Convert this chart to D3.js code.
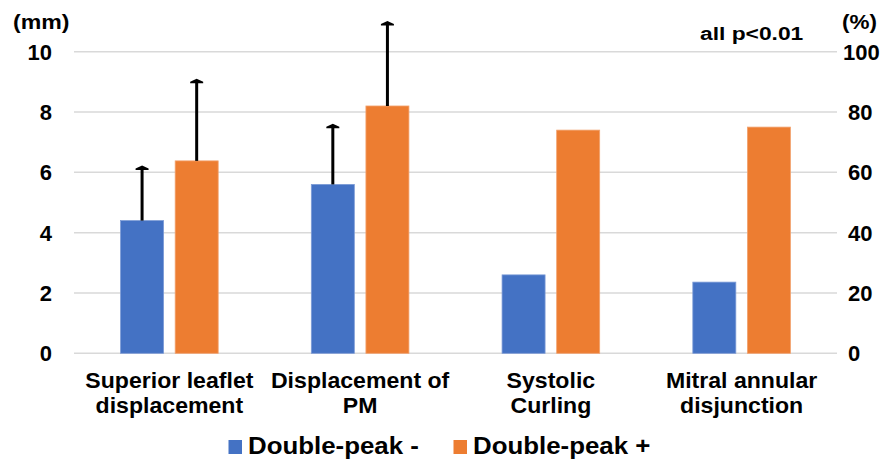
<!DOCTYPE html>
<html><head><meta charset="utf-8">
<script src="https://cdn.jsdelivr.net/npm/d3@7"></script>
<style>body{margin:0;background:#fff}svg{display:block}text{font-family:"Liberation Sans",Arial,sans-serif;font-weight:bold;fill:#000}</style>
</head><body><svg id="c" width="884" height="462"></svg>
<script>
const categories = [["Superior leaflet","displacement"],["Displacement of","PM"],["Systolic","Curling"],["Mitral annular","disjunction"]];
const seriesNames = ["Double-peak -","Double-peak +"];
const units = ["mm","mm","%","%"];
const negValues = [4.4, 5.6, 26, 23.6];
const posValues = [6.38, 8.2, 74, 75];
const negErrTop = [6.13, 7.51, null, null];
const posErrTop = [9.0, 10.92, null, null];
const leftTicks = [0,2,4,6,8,10];
const rightTicks = [0,20,40,60,80,100];
const colors = ["#4472C4","#ED7D31"];

const svg = d3.select("#c");
const L=74, R=837, T=51.7, B=353.3;
const x = d3.scaleBand().domain(d3.range(categories.length)).range([L,R]);
const yL = d3.scaleLinear().domain([0,10]).range([B,T]);
const yR = d3.scaleLinear().domain([0,100]).range([B,T]);
const yFor = i => units[i]==="%" ? yR : yL;

function label(g, tx, ty, str, size, sx, anchor){
  return g.append("text").attr("transform",`translate(${tx},${ty}) scale(${sx},1)`)
    .attr("text-anchor",anchor||"start").style("font-size",size+"px").text(str);
}

// gridlines
svg.append("g").selectAll("line").data(leftTicks).join("line")
  .attr("x1",L).attr("x2",R).attr("y1",d=>yL(d)).attr("y2",d=>yL(d))
  .attr("stroke","#D9D9D9").attr("stroke-width",1.5);

// left axis labels
svg.append("g").selectAll("text").data(leftTicks).join("text")
  .attr("x",52).attr("y",d=>yL(d)+8).attr("text-anchor","end")
  .style("font-size","22px").text(d=>d);
label(svg,13,29,"(mm)",21,1.1);
// right axis labels
svg.append("g").selectAll("text").data(rightTicks).join("text")
  .attr("x",d=>d===100?843:848).attr("y",d=>yR(d)+8).attr("text-anchor","start")
  .style("font-size","22px").text(d=>d);
label(svg,842,29,"(%)",21,1.07);
label(svg,700,39.5,"all p<0.01",19,1.2);

const bw = 43, gap = 11.6;
const off = [-(bw+gap)/2, (bw+gap)/2];
const series = [negValues,posValues];
const errs = [negErrTop,posErrTop];
series.forEach((vals,s)=>{
  svg.append("g").selectAll("rect").data(vals).join("rect")
    .attr("x",(d,i)=>x(i)+x.bandwidth()/2+off[s]-bw/2)
    .attr("width",bw)
    .attr("y",(d,i)=>yFor(i)(d))
    .attr("height",(d,i)=>B-yFor(i)(d))
    .attr("fill",colors[s]).attr("stroke",s===0?"#7C9BD6":"#F2A26E").attr("stroke-width",0.8);
});
series.forEach((vals,s)=>{
  const g = svg.append("g");
  vals.forEach((v,i)=>{
    const e = errs[s][i];
    if(e==null) return;
    const cx = x(i)+x.bandwidth()/2+off[s];
    const y = yFor(i);
    g.append("line").attr("x1",cx).attr("x2",cx).attr("y1",y(v)).attr("y2",y(e))
      .attr("stroke","#000").attr("stroke-width",3);
    const ty = y(e);
    g.append("path").attr("d",`M${cx-6.5},${ty+1.5} L${cx+6.5},${ty+1.5} L${cx+6.5},${ty} L${cx},${ty-3} L${cx-6.5},${ty} Z`)
      .attr("fill","#000");
  });
});

// category labels
categories.forEach((c,i)=>{
  const cx = x(i)+x.bandwidth()/2;
  c.forEach((line,k)=>{
    label(svg,cx,388+k*25,line,22,1.05,"middle");
  });
});

// legend
const lg = [{x:228.5,tx:248},{x:453.5,tx:473}];
seriesNames.forEach((n,s)=>{
  svg.append("rect").attr("x",lg[s].x).attr("y",440).attr("width",13.5).attr("height",14).attr("fill",colors[s]);
  label(svg,lg[s].tx,454,n,23.5,1.1);
});
</script></body></html>
